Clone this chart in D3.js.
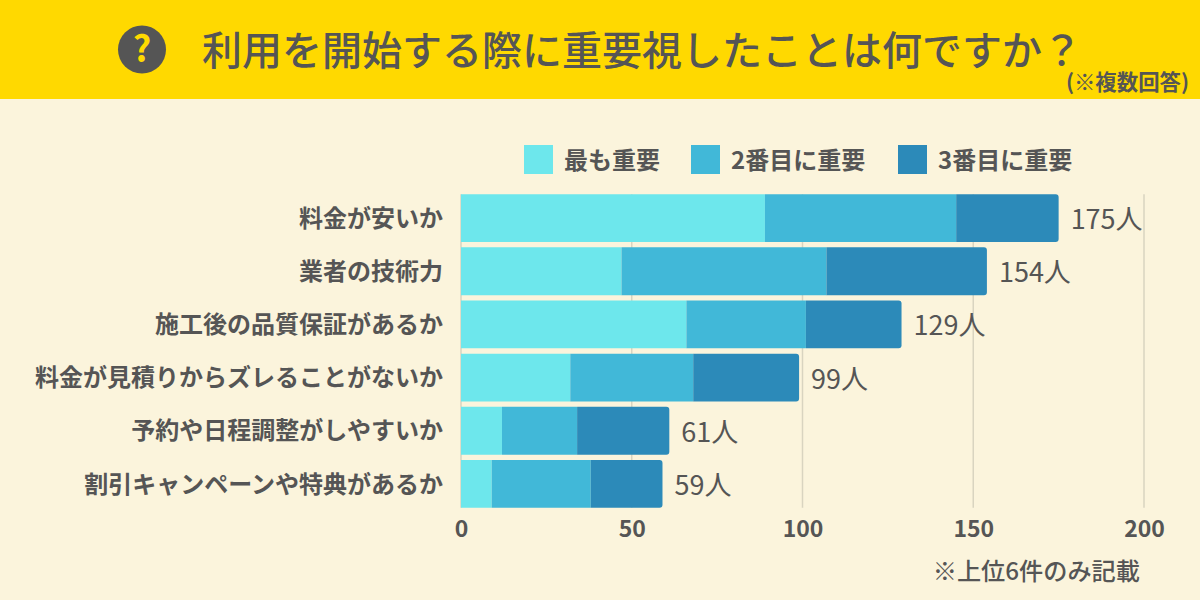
<!DOCTYPE html>
<html lang="ja">
<head>
<meta charset="utf-8">
<script src="https://cdn.jsdelivr.net/npm/d3@7"></script>
<style>
  html, body { margin: 0; padding: 0; background: #fbf4dc; }
  svg { display: block; }
  text { font-family: "Noto Sans CJK JP", "Noto Sans", sans-serif; fill: #555555; }
</style>
</head>
<body>
<script>
'use strict';

const categories = ['料金が安いか', '業者の技術力', '施工後の品質保証があるか', '料金が見積りからズレることがないか', '予約や日程調整がしやすいか', '割引キャンペーンや特典があるか'],
      seriesNames = ['最も重要', '2番目に重要', '3番目に重要'],
      first = [89, 47, 66, 32, 12, 9],
      second = [56, 60, 35, 36, 22, 29],
      third = [30, 47, 28, 31, 27, 21],
      totals = [175, 154, 129, 99, 61, 59],
      xTicks = [0, 50, 100, 150, 200],
      colors = ['#6de7ec', '#41b8d8', '#2c8ab9'];

const imgW = 1200,
      imgH = 600,
      margin = {top: 191.5, right: 56, bottom: 89.5, left: 461},
      x = d3.scaleLinear().domain([0, 200]).range([margin.left, imgW - margin.right]),
      y = d3.scaleBand().domain(categories).range([margin.top, imgH - margin.bottom]).paddingInner(0.1).paddingOuter(0.05);

const svg = d3.select('body').append('svg')
    .attr('width', imgW)
    .attr('height', imgH);

svg.append('rect').attr('width', imgW).attr('height', imgH).attr('fill', '#fbf4dc');

// header band
svg.append('rect').attr('width', imgW).attr('height', 99).attr('fill', '#ffd900');
svg.append('ellipse').attr('cx', 142).attr('cy', 49.5).attr('rx', 24).attr('ry', 24).attr('fill', '#555555');
svg.append('text').attr('x', 142).attr('y', 62).attr('text-anchor', 'middle')
    .attr('font-size', 36).attr('font-weight', 700).style('fill', '#ffd900').text('?');
svg.append('text').attr('x', 202).attr('y', 65)
    .attr('font-size', 40).attr('font-weight', 500).text('利用を開始する際に重要視したことは何ですか？');
svg.append('text').attr('x', 1189).attr('y', 90).attr('text-anchor', 'end')
    .attr('font-size', 21.4).attr('font-weight', 700).text('(※複数回答)');

// legend
const legendX = [524, 691, 898];
seriesNames.forEach(function(name, i) {
    svg.append('rect').attr('x', legendX[i]).attr('y', 145).attr('width', 29).attr('height', 29).attr('fill', colors[i]);
    svg.append('text').attr('x', legendX[i] + 40).attr('y', 169)
        .attr('font-size', 24).attr('font-weight', 700).text(name);
});

// grid lines
svg.append('g').selectAll('line').data(xTicks).join('line')
    .attr('x1', d => x(d)).attr('x2', d => x(d))
    .attr('y1', y(categories[0])).attr('y2', y(categories[5]) + y.bandwidth())
    .attr('stroke', '#d9d4c0').attr('stroke-width', 1.5);

// stacked bars, the last segment has small rounded right corners
const table = categories.map((c, i) => ({category: c, a: first[i], b: second[i], c: third[i], total: totals[i]}));
const stack = d3.stack().keys(['a', 'b', 'c'])(table);

stack.forEach(function(layer, k) {
    svg.append('g').selectAll('path').data(layer).join('path')
        .attr('fill', colors[k])
        .attr('d', function(d) {
            const x0 = x(d[0]), x1 = x(d[1]), y0 = y(d.data.category), y1 = y0 + y.bandwidth(),
                  r = k === 2 ? 3 : 0,
                  p = d3.path();
            p.moveTo(x0, y0);
            p.lineTo(x1 - r, y0);
            if (r) p.arcTo(x1, y0, x1, y0 + r, r);
            p.lineTo(x1, y1 - r);
            if (r) p.arcTo(x1, y1, x1 - r, y1, r);
            p.lineTo(x0, y1);
            p.closePath();
            return p.toString();
        });
});

// total labels
svg.append('g').selectAll('text').data(table).join('text')
    .attr('x', d => x(d.total) + 12)
    .attr('y', d => y(d.category) + y.bandwidth() / 2 + 11)
    .attr('font-size', 27)
    .text(d => d.total + '人');

// category axis
const yAxis = svg.append('g')
    .attr('transform', 'translate(' + (margin.left - 18) + ',1)')
    .call(d3.axisLeft(y).tickSize(0).tickPadding(0));
yAxis.select('.domain').remove();
yAxis.selectAll('text')
    .attr('font-size', 24).attr('font-weight', 700)
    .attr('font-family', '"Noto Sans CJK JP", "Noto Sans", sans-serif');

// value axis
const xAxis = svg.append('g')
    .attr('transform', 'translate(0,' + 508 + ')')
    .call(d3.axisBottom(x).tickValues(xTicks).tickSize(0).tickPadding(13));
xAxis.select('.domain').remove();
xAxis.selectAll('text')
    .attr('font-size', 23).attr('font-weight', 700)
    .attr('font-family', '"Noto Sans CJK JP", "Noto Sans", sans-serif');

// footnote
svg.append('text').attr('x', 1140).attr('y', 580).attr('text-anchor', 'end')
    .attr('font-size', 24.2).attr('font-weight', 500).text('※上位6件のみ記載');
</script>
</body>
</html>
